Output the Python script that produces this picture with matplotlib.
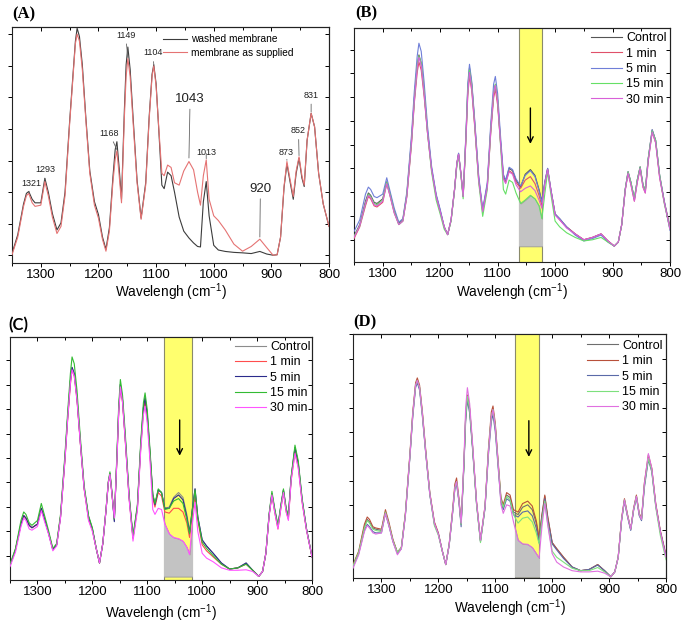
import matplotlib.pyplot as plt
import numpy as np
from matplotlib.patches import Rectangle

plt.rcParams['font.family'] = ['Liberation Sans', 'DejaVu Sans']
plt.rcParams['mathtext.fontset'] = 'custom'
plt.rcParams['mathtext.rm'] = 'Liberation Sans'
plt.rcParams['mathtext.default'] = 'regular'

# wavenumber grid (cm-1) shared by every spectrum
wn = [1350, 1340, 1330, 1325, 1321, 1315, 1310, 1300, 1293, 1287,
      1280, 1272, 1265, 1258, 1250, 1245, 1240, 1237, 1233, 1228,
      1222, 1215, 1207, 1200, 1193, 1187, 1181, 1175, 1171, 1168,
      1164, 1160, 1155, 1152, 1149, 1145, 1140, 1133, 1126, 1118,
      1112, 1107, 1104, 1100, 1095, 1090, 1086, 1080, 1074, 1068,
      1060, 1052, 1043, 1035, 1028, 1023, 1018, 1013, 1008, 1000,
      992, 980, 965, 950, 935, 920, 908, 897, 890, 884,
      878, 873, 868, 862, 857, 852, 847, 843, 838, 831,
      825, 818, 810, 800]

# (A) washed vs as supplied
a_washed = [4, 12, 25, 29.5, 30.3, 27, 25.5, 25.5, 35.9, 30,
            21, 14, 17, 30, 60, 77, 94, 99.5, 96, 84,
            62, 39, 26, 20.5, 11, 5.8, 15, 36, 48, 51.4,
            40, 27, 65, 84, 91.5, 82, 62, 35, 19, 34,
            62, 80, 84, 76, 55, 33, 31.5, 38.5, 37, 30,
            19.5, 13.5, 10.6, 8.5, 7, 6.8, 26, 34.5, 20, 7.5,
            5.5, 4.9, 4.5, 4.3, 4, 4.9, 3.8, 3.3, 3.5, 11,
            32, 42, 35, 27, 38, 44.4, 36, 32.4, 52, 63.4,
            57.7, 38, 25, 15.5]
a_supplied = [3.5, 11, 24, 28.5, 29.5, 25.5, 24, 24.5, 34.5, 28.5,
              19.5, 12.5, 15.5, 28.5, 59, 76, 93, 97, 94, 82,
              61, 38, 24.5, 19, 10, 5, 13.5, 34, 44, 47.5,
              37, 25.5, 62, 79, 86.6, 79, 60, 34, 18.5, 33,
              61, 79, 83.5, 75, 56, 38, 37, 41.5, 40.5, 34,
              33, 39, 43, 39.5, 30, 24.5, 37, 43.7, 27, 20,
              18, 14, 8, 5, 7, 10.1, 6.5, 3.3, 3.5, 11,
              32.5, 43, 36, 28.2, 39, 45, 37, 33, 52, 63.5,
              57.7, 38, 25, 15.5]

# (B)
b_control = [11, 16, 26, 29.5, 28.5, 25.5, 25, 27, 34.3, 29,
             22, 16.5, 18, 29, 52, 70, 84, 88.5, 85, 73,
             56, 40, 28.5, 22, 15, 11.7, 18, 31, 42, 46.4,
             38, 28, 55, 74, 83, 76, 60, 36, 22, 33,
             57, 72, 75.7, 69, 52, 37, 34.5, 40, 39, 35,
             32, 37.5, 39.5, 37, 31, 26, 34, 40, 32, 20.5,
             18.5, 15, 12, 9.5, 10.5, 12, 9, 6.8, 8.5, 16,
             31, 38.6, 34, 27, 35, 40.7, 33, 30.5, 44, 56.5,
             52, 37, 26, 15]
b_1min = [10, 15, 24, 28, 27, 24, 23.5, 25.5, 33.5, 28,
          21, 16, 17.5, 28, 50, 68, 81, 85.5, 82, 71,
          55, 39.5, 28, 21.5, 15, 11.7, 18, 31, 42, 46,
          38, 28, 53, 71, 79.5, 73, 58, 35, 21.5, 32,
          55, 70, 74, 67, 51, 36, 34, 39, 38, 34,
          31.5, 35, 36.5, 33.5, 28.5, 24, 33.5, 39.5, 31.5, 20.5,
          18, 15, 12, 9.5, 10.5, 12, 9, 6.8, 8.5, 16,
          30.5, 38, 33, 26, 34, 40, 32, 29.5, 43, 55.5,
          51, 36, 25.5, 14]
b_5min = [13, 18, 29, 32, 31, 28, 27.5, 29, 36, 30,
          23, 17, 18.5, 30, 54, 73, 88, 93.5, 90, 77,
          58, 41, 29, 22.5, 15, 11.7, 18, 31, 42, 46.5,
          38, 28, 56, 76, 84.5, 77, 61, 37, 22.5, 34,
          59, 76, 79.3, 72, 54, 37.5, 35, 40.5, 39.5, 35.5,
          32.5, 37, 39, 36.5, 30.5, 25.5, 34, 40, 32, 20.5,
          18.5, 15, 11.5, 9, 10, 11.5, 8.5, 6.8, 8.5, 16,
          31, 38.5, 34, 27, 35, 40.5, 33, 30.5, 44, 56.5,
          52, 37, 26, 13.5]
b_15min = [11, 15.5, 25, 29, 28, 25, 24.5, 26.5, 34, 28.5,
           21.5, 16, 17.5, 28.5, 51, 69, 84, 88, 85, 73,
           55, 38.5, 26.5, 20.5, 14, 11.7, 17.5, 30.5, 41, 45.5,
           37, 27, 54, 73, 82, 75, 59, 34, 19.5, 31,
           56, 72, 76, 69, 50, 31, 29, 35, 34, 29.5,
           25, 26.5, 28.5, 27, 24, 18.5, 29, 38.5, 30, 17.5,
           15, 12.5, 10.5, 9, 9.5, 10.5, 8.5, 6.8, 8.5, 16,
           31, 38.5, 34, 27, 35, 40.5, 33, 30.5, 44, 56,
           52, 37, 25, 14]
b_30min = [10.5, 15.5, 25, 28.5, 27.5, 24.5, 24, 26, 33.5, 28,
           21, 16, 17.5, 28, 51, 69, 83, 87.5, 84, 72,
           55, 39.5, 28, 21.5, 15, 11.7, 18, 31, 42, 46,
           38, 28, 54, 72, 81, 74, 59, 35, 21.5, 32,
           56, 72, 75.5, 68.5, 51, 35.5, 33.5, 38.5, 37.5, 33,
           30, 31.5, 32.5, 30.5, 26.5, 23, 33, 39.5, 31.5, 20,
           18, 14.5, 12, 9.5, 10.5, 12, 9, 6.8, 8.5, 16,
           30.5, 38, 33, 26, 34, 40, 32, 29.5, 43, 55.5,
           51, 36, 25.5, 14]

# (C)
c_control = [6, 12.5, 23, 26.5, 25.5, 22.5, 21.5, 23, 29.5, 25,
             19.5, 12.5, 14.5, 26, 50, 67, 82, 87.5, 85, 75,
             57, 38, 26, 21, 13, 7, 15, 29, 40, 43.8,
             35, 24.5, 52, 70, 80.5, 74, 58, 34, 17.5, 30,
             55, 71, 75.3, 68, 52, 35, 31, 37, 36, 29.5,
             30, 34, 36, 34, 27, 20, 29, 37.5, 26, 16.5,
             14, 11, 7, 4.5, 5, 7, 4, 1.5, 3.5, 11,
             27, 35.6, 29, 22, 30, 37, 29, 26, 42, 54.5,
             48, 33, 21, 9.5]
c_1min = [6, 12.5, 23, 26.5, 25.5, 22.5, 21.5, 23, 29.5, 25,
          19.5, 12.5, 14.5, 26, 49, 66, 80.5, 86.5, 84, 74,
          56.5, 37.5, 25, 20.5, 13, 7, 15, 29, 40, 43.5,
          34.5, 25.5, 51, 69, 79.5, 73, 57, 33.5, 17, 29.5,
          54, 69.5, 73.5, 66.5, 51, 33.5, 30, 36, 34.5, 28,
          27.5, 29.5, 29.5, 28, 23.5, 17.5, 27.5, 34, 24.5, 14.5,
          12, 9.5, 6.5, 4.5, 5, 6.5, 4, 1.5, 3.5, 11,
          26.5, 35, 28, 21, 29, 36, 28, 25, 41, 52.5,
          46.5, 32, 20.5, 9.5]
c_5min = [6, 12.5, 23, 26.5, 25.5, 22.5, 21.5, 23, 29.5, 25,
          19.5, 12.5, 14.5, 26, 50, 67, 82, 87.5, 85, 75,
          57, 38, 26, 21, 13, 7, 15, 29, 40, 43.8,
          35, 24, 52, 70, 80.5, 74, 58, 34, 17.5, 30,
          55, 71, 75, 68, 52, 35, 31, 37, 36, 29.5,
          29.5, 33.5, 35, 33, 26, 19.5, 29, 37.5, 26, 16.5,
          14, 11, 7, 4.5, 5, 7, 4, 1.5, 3.5, 11,
          27, 35.6, 29, 22, 30, 37, 29, 26, 42, 54.5,
          48, 33, 21, 9.5]
c_15min = [6.5, 13, 24.5, 28, 27, 23.5, 22.5, 24.5, 31.5, 26.5,
           20.5, 13, 15, 27, 51.5, 69, 85, 91.8, 89, 78,
           59, 39, 26.5, 21.5, 13, 7, 15, 29.5, 40.5, 44.5,
           35.5, 25, 53.5, 72, 82.5, 76, 60, 35, 18, 31,
           56.5, 73, 77, 70, 53.5, 35.5, 31.5, 37.5, 36, 29,
           29.5, 32.5, 33.5, 31.5, 25, 19, 28.5, 37, 25.5, 15.5,
           13, 10, 6.5, 4.5, 5, 6.5, 4, 1.5, 3.5, 11,
           27.5, 36.5, 29.5, 22.5, 30.5, 37.5, 29.5, 26.5, 42.5, 55.5,
           49, 33.5, 21, 9.5]
c_30min = [5.5, 11.5, 22, 25.5, 24.5, 21, 20.5, 22, 28.5, 24,
           19, 12, 14, 25.5, 49, 66, 81, 86.5, 84, 74,
           56.5, 37.5, 24.5, 20, 13, 7, 15, 29, 40, 43.5,
           34.5, 25.5, 51, 69, 79.5, 73, 57, 33, 16, 28.5,
           53, 68, 71.5, 64.5, 49, 29, 27, 29.5, 29, 23,
           19, 17.5, 17, 16, 13.5, 10.5, 23, 32, 20, 11,
           9, 7.5, 5, 4, 4, 4.2, 3.5, 1.5, 3.5, 11,
           26.5, 35, 28, 21, 29, 36, 28, 24.5, 41, 52,
           46, 32, 20.5, 9.5]

# (D)
d_control = [5, 10.5, 21, 24, 23, 20.5, 20, 19.5, 27, 22,
             15.5, 10.5, 12.5, 26, 50, 67, 79, 81, 78, 67,
             51, 34.5, 22.5, 18, 11, 5.5, 13.5, 27, 37, 39.5,
             32, 22, 47, 66, 74.5, 69, 54, 31, 15, 29,
             52, 66, 69, 62, 47, 32, 29, 34, 33, 27,
             26, 29, 30, 28, 22.5, 16, 25.5, 33.5, 25, 14.5,
             12, 8.5, 4.5, 3, 3.5, 5.5, 3, 0.5, 2.5, 8.5,
             24, 32, 26, 20, 28, 33.5, 26, 24, 38, 49.5,
             44.5, 30, 19, 9]
d_1min = [5.5, 11, 22, 25, 24, 21, 20.5, 20, 28, 23,
          16, 10.5, 12.5, 26.5, 51, 68, 80, 82, 79, 68,
          52, 35, 23, 18.5, 11, 5.5, 14, 28, 38.5, 41,
          33, 22.5, 47.5, 66.5, 75, 69.5, 54.5, 31.5, 15.5, 29.5,
          53, 68, 70.5, 63.5, 48, 33, 30, 35, 34, 28,
          27, 30.5, 31.5, 29.5, 23.5, 16.5, 26, 34, 25.5, 14.5,
          12, 8.5, 4.5, 3, 3.5, 5.5, 3, 0.5, 2.5, 8.5,
          24.5, 32.5, 26.5, 20, 28.5, 34, 26.5, 24.5, 39, 50.5,
          45, 30.5, 19.5, 9.5]
d_5min = [4.5, 10, 19.5, 22, 21, 19, 18.5, 18.5, 26.5, 21.5,
          15, 10, 12, 25.5, 49.5, 66, 78, 80, 77, 66,
          50.5, 34, 22, 18, 11, 5.5, 13.5, 26.5, 36.5, 38.5,
          31.5, 21, 46, 64.5, 73, 67.5, 53, 30.5, 15, 28.5,
          50.5, 64, 67, 60, 45.5, 31, 28, 32.5, 31.5, 26,
          25, 27, 27.5, 25.5, 20.5, 14.5, 24.5, 32.5, 24, 14,
          11.5, 8, 4.5, 3, 3.5, 5.3, 3, 0.5, 2.5, 8.5,
          23.5, 31.5, 25.5, 19.5, 27.5, 33, 25.5, 23.5, 37, 48.5,
          43.5, 29.5, 19, 9]
d_15min = [5, 10.5, 20.5, 23.5, 22.5, 20, 19.5, 19, 27, 22,
           15.5, 10.5, 12.5, 26, 50, 67, 79, 81, 78, 67,
           51, 34.5, 21.5, 17.5, 11, 5.5, 13.5, 27, 37, 39.5,
           32, 22, 47, 66, 74.5, 69, 54, 30.5, 14.5, 29,
           52, 66, 69, 62, 47, 32, 29, 33.5, 32, 26,
           22.5, 24.5, 25, 23, 18.5, 14, 23.5, 31.5, 22.5, 11,
           8.5, 6.5, 4, 3, 3, 4.3, 2.5, 0.5, 2.5, 8.5,
           24, 32, 26, 20, 28, 33.5, 26, 24, 38, 49,
           44, 29, 17.5, 7.5]
d_30min = [4, 9.5, 19, 21.5, 20.5, 18.5, 18, 18.5, 26.5, 21.5,
           15, 9.5, 12, 25.5, 50, 67, 79, 81, 78, 67,
           51, 34.5, 22.5, 18, 11, 5.5, 13.5, 27, 37, 39.5,
           32, 22.5, 49, 70, 78, 71.5, 55.5, 31.5, 15.5, 29.5,
           51.5, 66, 69, 62, 47, 30, 26.5, 30, 29.5, 23,
           15.5, 14, 13.8, 12.5, 10, 8.2, 21, 30.5, 22, 10,
           6.5, 4.5, 3, 2.5, 2.5, 2.8, 2, 0.5, 2.5, 8.5,
           24, 32, 26, 20, 28, 33.5, 26, 24, 38.5, 51,
           45, 30, 19, 8.5]

times = ['Control', '1 min', '5 min', '15 min', '30 min']
peak_labels = ['1321', '1293', '1168', '1149', '1104', '1043', '1013', '920', '873', '852', '831']
peak_wn = [1321, 1293, 1168, 1149, 1104, 1043, 1013, 920, 873, 852, 831]

fig = plt.figure(figsize=(6.85, 6.26), dpi=100)


def rect(l, t, r, b):
    return [l / 685, 1 - b / 626, (r - l) / 685, (b - t) / 626]


def style(ax, y0, dy, labelpad):
    ax.set_xlim(1350, 800)
    ax.set_ylim(0, 100)
    major = np.arange(800, 1301, 100)
    minor = np.arange(850, 1351, 100)
    yt = np.arange(y0, 100, dy)
    ax.set_xticks(major)
    ax.set_xticks(minor, minor=True)
    ax.set_yticks(yt)
    ax.set_yticklabels([])
    ax.tick_params(which='major', direction='out', length=3, width=0.7, labelsize=9.5, pad=1.5)
    ax.tick_params(which='minor', direction='out', length=1.8, width=0.7)
    top = ax.secondary_xaxis('top')
    top.set_xticks(major)
    top.set_xticks(minor, minor=True)
    top.set_xticklabels([])
    top.tick_params(which='major', direction='in', length=3, width=0.7)
    top.tick_params(which='minor', direction='in', length=1.8, width=0.7)
    right = ax.secondary_yaxis('right')
    right.set_yticks(yt)
    right.set_yticklabels([])
    right.tick_params(direction='in', length=3, width=0.7)
    for s in list(ax.spines.values()) + list(top.spines.values()) + list(right.spines.values()):
        s.set_linewidth(0.8)
        s.set_color('#222222')
    ax.set_xlabel('Wavelengh (cm$^{-1}$)', fontsize=9.8, labelpad=labelpad)


def box(ax, x0, x1, base, lowest, arrow_x, arrow_y0, arrow_y1):
    ax.axvspan(x1, x0, facecolor='#ffff6e', edgecolor='#8a8a6a', lw=0.8, zorder=1)
    clip = Rectangle((x1, 0), x0 - x1, 100, transform=ax.transData, fill=False, lw=0)
    ax.add_patch(clip)
    fb = ax.fill_between(wn, base, lowest, color='#c3c3c3', lw=0.6, edgecolor='#9a9a9a', zorder=2)
    fb.set_clip_path(clip)
    ax.annotate('', xy=(arrow_x, arrow_y1), xytext=(arrow_x, arrow_y0),
                arrowprops=dict(arrowstyle='->', lw=1.0, color='black'), zorder=5)


def spectra(ax, series, colors, leg_x, leg_y):
    for ys, c, lab in zip(series, colors, times):
        ax.plot(wn, ys, color=c, lw=0.8, label=lab, zorder=3)
    ax.legend(loc='upper left', bbox_to_anchor=(leg_x, leg_y), frameon=False, fontsize=9,
              handlelength=2.5, handletextpad=0.3, labelspacing=0.27, borderpad=0, borderaxespad=0)


# ---- (A)
axA = fig.add_axes(rect(12, 27, 329, 263))
axA.plot(wn, a_washed, color='#3c3c3c', lw=0.8, label='washed membrane', zorder=3)
axA.plot(wn, a_supplied, color='#e57373', lw=0.8, label='membrane as supplied', zorder=3)
style(axA, 3.2, 13.4, 0)
axA.legend(loc='upper left', bbox_to_anchor=(0.476, 0.97), frameon=False, fontsize=7.3,
           handlelength=2.4, handletextpad=0.4, labelspacing=0.35, borderpad=0, borderaxespad=0)
label_xy = [(1316, 33.5), (1293, 39.5), (1181, 55), (1153, 96.5), (1106, 89),
            (1041, 69.5), (1013, 47), (919, 31.5), (874, 47), (853, 56), (831, 71)]
big = ['1043', '920']
for lab, px, (tx, ty) in zip(peak_labels, peak_wn, label_xy):
    py = a_supplied[wn.index(px)] if px in wn else 0
    if lab == '920':
        py = 10.5
    if lab == '1043':
        py = 44
    axA.annotate(lab, xy=(px, py + 0.5), xytext=(tx, ty), ha='center', va='center',
                 fontsize=9.5 if lab in big else 6.5, color='#222222',
                 arrowprops=dict(arrowstyle='-', lw=0.6, color='#666666', shrinkA=1, shrinkB=0))
fig.text(12 / 685, 1 - 14 / 626, '(A)', family='Liberation Serif', weight='bold', fontsize=12, va='center')

# ---- (B)
axB = fig.add_axes(rect(354, 28, 670, 262))
box(axB, 1063, 1022, 6.7, b_15min, 1043, 67, 49.3)
spectra(axB, [b_control, b_1min, b_5min, b_15min, b_30min],
        ['#555555', '#e0506a', '#6f7fd8', '#66e066', '#d860d8'], 0.75, 0.982)
style(axB, 9.6, 10.15, 0.5)
fig.text(355 / 685, 1 - 13 / 626, '(B)', family='Liberation Serif', weight='bold', fontsize=12, va='center')

# ---- (C)
axC = fig.add_axes(rect(10, 337, 312, 580))
box(axC, 1069, 1018, 1.4, c_30min, 1041, 67, 50)
spectra(axC, [c_control, c_1min, c_5min, c_15min, c_30min],
        ['#8c8c8c', '#ff4d4d', '#2b2b8c', '#33bb33', '#ff55ff'], 0.745, 0.984)
style(axC, 10, 10.05, 3)
fig.text(8 / 685, 1 - 325 / 626, '(C)', family='Lato', weight='bold', fontsize=12, va='center')

# ---- (D)
axD = fig.add_axes(rect(353, 334, 666, 578))
box(axD, 1065, 1023, 0.4, d_30min, 1041, 65.6, 48.5)
spectra(axD, [d_control, d_1min, d_5min, d_15min, d_30min],
        ['#6e6e6e', '#b8503a', '#5a6aa8', '#7de07d', '#e070e0'], 0.748, 0.976)
style(axD, 9.8, 10, 1)
fig.text(353 / 685, 1 - 322 / 626, '(D)', family='Liberation Serif', weight='bold', fontsize=12, va='center')

plt.savefig('out.png', dpi=100)
